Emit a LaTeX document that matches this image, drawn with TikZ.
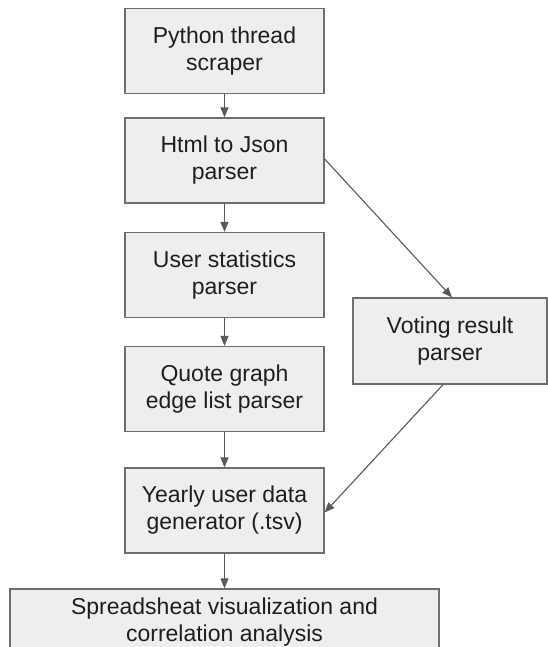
\documentclass[tikz,border=0pt]{standalone}
\usepackage{fontspec}
\setmainfont{Liberation Sans}
\usetikzlibrary{arrows.meta}
\definecolor{boxfill}{HTML}{EEEEEE}
\definecolor{boxline}{HTML}{6E6E6E}
\definecolor{arrowc}{HTML}{5A5A5A}
\definecolor{txt}{HTML}{1E1E1E}
\tikzset{
  stagebox/.style={draw=boxline, fill=boxfill, line width=1.3pt, minimum width=199pt, minimum height=85pt,
    align=center, inner sep=0pt, text=txt, font=\fontsize{23pt}{27pt}\selectfont},
  flow/.style={draw=arrowc, line width=1.1pt, -{Triangle[length=10pt,width=8pt]}}
}
\begin{document}
\begin{tikzpicture}[x=1pt,y=-1pt]
\useasboundingbox (0,0) rectangle (548,647);
\clip (0,0) rectangle (548,647);
\fill[white] (0,0) rectangle (548,647);
\node[stagebox] (scraper) at (224.5,51) {Python thread\\scraper};
\node[stagebox] (html) at (224.5,160.5) {Html to Json\\parser};
\node[stagebox] (user) at (224.5,275) {User statistics\\parser};
\node[stagebox] (quote) at (224.5,389) {Quote graph\\edge list parser};
\node[stagebox] (yearly) at (224.5,510.5) {Yearly user data\\generator (.tsv)};
\node[stagebox, minimum width=194pt, minimum height=86pt] (voting) at (450,341) {Voting result\\parser};
\node[stagebox, minimum width=429pt, minimum height=67pt] (sheet) at (224.5,622.5) {Spreadsheat visualization and\\correlation analysis};
\draw[flow] (scraper) -- (html);
\draw[flow] (html) -- (user);
\draw[flow] (user) -- (quote);
\draw[flow] (quote) -- (yearly);
\draw[flow] (yearly) -- (sheet);
\draw[flow] ([yshift=1.5pt]html.east) -- ([xshift=2pt]voting.north);
\draw[flow] ([xshift=-7pt]voting.south) -- ([yshift=-2pt]yearly.east);
\end{tikzpicture}
\end{document}
